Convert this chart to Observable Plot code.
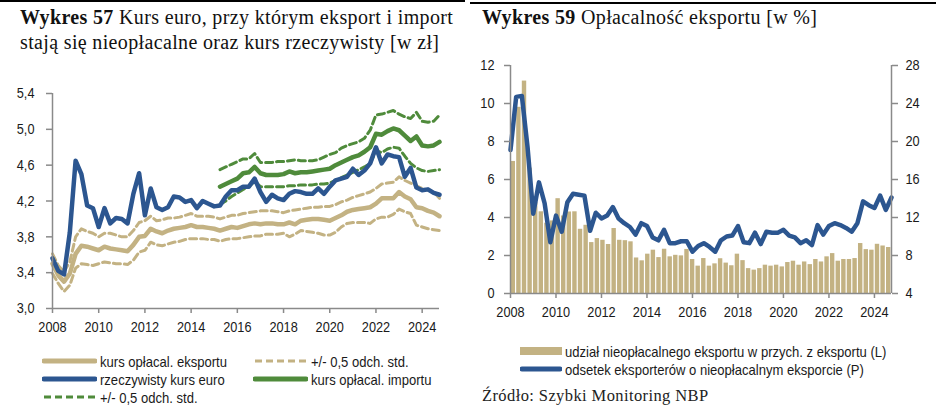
<!DOCTYPE html>
<html><head><meta charset="utf-8">
<script src="https://cdn.jsdelivr.net/npm/d3@7"></script>
<script src="https://cdn.jsdelivr.net/npm/@observablehq/plot@0.6"></script>
<style>
html,body{margin:0;padding:0;background:#fff;}
body{width:948px;height:416px;position:relative;overflow:hidden;font-family:"Liberation Sans Narrow","Arial Narrow","Liberation Sans",Arial,sans-serif;color:#1a1a1a;}
.abs{position:absolute;}
.title{font-family:"Liberation Serif","Times New Roman",serif;font-size:20px;letter-spacing:0.35px;line-height:25px;white-space:nowrap;color:#111;}
.title b{font-weight:bold;}
.leg{position:absolute;display:flex;align-items:center;height:18px;font-size:15px;white-space:nowrap;color:#1a1a1a;}
.leg svg{margin-right:3px;flex:none;}
.leg span{display:inline-block;transform:scaleX(0.87);transform-origin:0 50%;}
.src{font-family:"Liberation Serif","Times New Roman",serif;font-size:16.5px;letter-spacing:0.4px;white-space:nowrap;color:#222;}
#c1 svg,#c2 svg{max-width:none !important;display:block;}
</style></head><body>
<div class="abs" style="left:0;top:0;width:465px;height:1.5px;background:#000"></div>
<div class="abs" style="left:470px;top:2px;width:466px;height:1.5px;background:#000"></div>
<div class="abs title" style="left:20px;top:5px"><b>Wykres 57</b> Kurs euro, przy którym eksport i import<br>stają się nieopłacalne oraz kurs rzeczywisty [w zł]</div>
<div class="abs title" style="left:482px;top:5px"><b>Wykres 59</b> Opłacalność eksportu [w %]</div>
<div id="c1" class="abs" style="left:0;top:70px;width:470px;height:270px"></div>
<div id="c2" class="abs" style="left:474px;top:40px;width:474px;height:280px"></div>
<div id="legends"></div>
<div class="abs src" style="left:482px;top:386px">Źródło: Szybki Monitoring NBP</div>
<script>
// ---------- DATA ----------
// quarterly, 2008Q1 ... 2024Q4
const yearTicks = ["2008","2010","2012","2014","2016","2018","2020","2022","2024"];
const firstYear = 2008;

// Wykres 57 [zł]
const kursEksportu = [3.50,3.37,3.30,3.39, 3.61,3.70,3.69,3.67, 3.65,3.69,3.67,3.66, 3.65,3.64,3.71,3.80,
  3.81,3.89,3.86,3.84, 3.87,3.89,3.90,3.91, 3.93,3.91,3.91,3.90, 3.89,3.87,3.89,3.91,
  3.90,3.92,3.94,3.95, 3.94,3.95,3.95,3.94, 3.94,3.96,3.94,3.98, 3.99,4.00,4.00,3.99,
  3.98,4.01,4.04,4.08, 4.10,4.11,4.12,4.13, 4.17,4.23,4.23,4.23, 4.30,4.25,4.22,4.13,
  4.12,4.09,4.07,4.03];
const kursEksportuGora = [3.61,3.48,3.41,3.52, 3.80,3.89,3.86,3.84, 3.80,3.84,3.84,3.82, 3.80,3.80,3.87,3.96,
  3.98,4.03,3.98,3.99, 4.01,4.01,4.02,4.04, 4.06,4.03,4.03,4.03, 4.02,4.00,4.02,4.04,
  4.04,4.06,4.07,4.08, 4.09,4.09,4.09,4.08, 4.07,4.09,4.10,4.11, 4.12,4.13,4.13,4.14,
  4.14,4.16,4.19,4.21, 4.24,4.26,4.28,4.30, 4.34,4.39,4.40,4.41, 4.47,4.43,4.40,4.37,
  4.34,4.32,4.30,4.23];
const kursEksportuDol = [3.39,3.28,3.19,3.26, 3.45,3.50,3.49,3.48, 3.50,3.52,3.51,3.50, 3.50,3.49,3.54,3.63,
  3.65,3.74,3.71,3.70, 3.72,3.74,3.75,3.77, 3.78,3.78,3.78,3.77, 3.77,3.75,3.77,3.78,
  3.78,3.79,3.80,3.81, 3.81,3.83,3.83,3.83, 3.84,3.80,3.83,3.87, 3.86,3.85,3.84,3.82,
  3.82,3.85,3.91,3.95, 3.96,3.96,3.96,3.95, 4.00,4.02,4.02,4.05, 4.11,4.08,4.06,3.93,
  3.91,3.89,3.88,3.87];
const kursRzeczywisty = [3.56,3.42,3.38,3.85, 4.65,4.50,4.15,4.12, 3.91,4.12,3.95,4.01, 4.00,3.95,4.28,4.51,
  4.04,4.34,4.13,4.10, 4.13,4.25,4.24,4.19, 4.21,4.12,4.20,4.17, 4.14,4.15,4.25,4.32,
  4.32,4.36,4.36,4.45, 4.30,4.19,4.27,4.23, 4.21,4.28,4.31,4.30, 4.28,4.28,4.34,4.28,
  4.36,4.43,4.45,4.47, 4.56,4.49,4.54,4.62, 4.80,4.62,4.72,4.70, 4.69,4.47,4.57,4.35,
  4.32,4.33,4.29,4.27];
// import series start in 2015Q2
const importStart = 29;
const kursImportu = [4.36,4.39,4.42, 4.45,4.51,4.52,4.58, 4.51,4.49,4.49,4.49, 4.50,4.53,4.51,4.52,
  4.52,4.53,4.54,4.55, 4.56,4.60,4.63,4.66, 4.69,4.71,4.75,4.80, 4.95,4.94,4.98,5.01,
  4.99,4.93,4.87,4.92, 4.82,4.81,4.82,4.86];
const kursImportuGora = [4.55,4.58,4.61, 4.64,4.67,4.67,4.73, 4.63,4.63,4.63,4.64, 4.64,4.65,4.66,4.65,
  4.65,4.65,4.66,4.69, 4.72,4.74,4.79,4.82, 4.84,4.86,4.90,4.99, 5.16,5.17,5.19,5.21,
  5.17,5.14,5.12,5.19, 5.09,5.08,5.09,5.16];
const kursImportuDol = [4.16,4.20,4.25, 4.29,4.33,4.36,4.42, 4.36,4.36,4.36,4.36, 4.36,4.37,4.37,4.38,
  4.38,4.38,4.39,4.39, 4.40,4.43,4.46,4.49, 4.52,4.55,4.58,4.62, 4.76,4.74,4.78,4.80,
  4.79,4.70,4.62,4.57, 4.54,4.53,4.54,4.55];
const ticks57 = [3.0,3.4,3.8,4.2,4.6,5.0,5.4];

// Wykres 59 [%]
const udzialNieoplacalnego = [6.95,9.8,11.18,6.6, 4.8,4.3,3.7,3.82, 4.99,4.08,4.29,4.30, 3.38,3.59,2.68,2.89,
  2.80,2.58,3.42,2.80, 2.78,2.72,1.87,1.72, 2.07,2.28,1.89,2.33, 1.93,2.01,1.98,2.32,
  1.79,1.44,1.84,1.44, 1.56,1.83,1.60,1.46, 2.07,1.73,1.31,1.23, 1.31,1.49,1.44,1.49,
  1.40,1.63,1.70,1.49, 1.66,1.52,1.79,1.66, 1.93,2.10,1.70,1.79, 1.79,1.84,2.63,2.31,
  2.28,2.59,2.50,2.42];
const odsetekEksporterow = [19.1,24.7,24.8,19.4, 12.4,15.7,13.5,9.4, 12.2,10.5,13.6,14.5, 14.4,14.3,10.6,12.5,
  11.9,12.2,13.1,11.9, 11.4,11.0,10.2,11.4, 11.1,9.9,9.6,10.7, 9.3,9.3,9.5,9.5,
  8.4,9.0,9.3,8.9, 8.4,9.6,10.0,10.1, 11.1,9.4,9.3,10.4, 9.2,10.5,10.4,10.4,
  10.7,10.1,9.9,9.3, 9.6,9.1,11.2,10.2, 11.1,11.4,11.2,10.9, 10.5,11.4,13.7,13.3,
  13.0,14.3,12.8,14.1];
const ticks59L = [0,2,4,6,8,10,12];
const ticks59P = [4,8,12,16,20,24,28];

// ---------- COLORS ----------
const TAN = "#C3B283", BLUE = "#2C5690", GREEN = "#4F8B3B", AXIS = "#8a8a8a", TXT = "#1a1a1a";
const FONT = '"Liberation Sans Narrow","Arial Narrow","Liberation Sans",Arial,sans-serif';
const NARROW = 0.85;

const nQ = kursEksportu.length;
const toRows = (arr, off=0) => arr.map((v,i)=>({i:i+off, v}));
const tickIdx = yearTicks.map(y => (+y - firstYear)*4);
const yearLabel = i => yearTicks[tickIdx.indexOf(i)];

// condense tick label glyphs (narrow sans look), keeping their anchor points
function condense(svg) {
  d3.select(svg).selectAll('[aria-label$="tick label"] text').each(function() {
    const t = this.getAttribute("transform");
    if (t) {
      this.setAttribute("transform", `${t} scale(${NARROW},1)`);
    } else {
      const x = this.getAttribute("x");
      if (x !== null && !isNaN(+x)) this.setAttribute("x", +x / NARROW);
      this.setAttribute("transform", `scale(${NARROW},1)`);
    }
  });
  return svg;
}

// ---------- CHART 57 ----------
const dash = "7,4";
const c1 = Plot.plot({
  width: 470, height: 270,
  marginLeft: 52, marginRight: 31, marginTop: 23, marginBottom: 32,
  style: {fontFamily: FONT, fontSize: "15px", background: "transparent", overflow: "visible"},
  x: {domain: [0, nQ-1]},
  y: {domain: [3.0, 5.4]},
  marks: [
    Plot.line(toRows(kursEksportuGora), {x:"i", y:"v", stroke:TAN, strokeWidth:3, strokeDasharray:dash}),
    Plot.line(toRows(kursEksportuDol), {x:"i", y:"v", stroke:TAN, strokeWidth:3, strokeDasharray:dash}),
    Plot.line(toRows(kursEksportu), {x:"i", y:"v", stroke:TAN, strokeWidth:4.5}),
    Plot.line(toRows(kursImportuGora, importStart), {x:"i", y:"v", stroke:GREEN, strokeWidth:3, strokeDasharray:dash}),
    Plot.line(toRows(kursImportuDol, importStart), {x:"i", y:"v", stroke:GREEN, strokeWidth:3, strokeDasharray:dash}),
    Plot.line(toRows(kursImportu, importStart), {x:"i", y:"v", stroke:GREEN, strokeWidth:4.5}),
    Plot.line(toRows(kursRzeczywisty), {x:"i", y:"v", stroke:BLUE, strokeWidth:4.5}),
    Plot.ruleX([0], {stroke:AXIS, strokeWidth:1.5}),
    Plot.ruleY([3.0], {stroke:AXIS, strokeWidth:1.5}),
    Plot.axisY({ticks: ticks57, tickFormat: d => d.toFixed(1).replace(".", ","), tickSize:6, tickPadding:12,
      stroke:AXIS, strokeWidth:1.5, fill:TXT, fontSize:15, label:null}),
    Plot.axisX({ticks: tickIdx, tickFormat: yearLabel, tickSize:5, tickPadding:8,
      stroke:AXIS, strokeWidth:1.5, fill:TXT, fontSize:15, label:null})
  ]
});
document.getElementById("c1").append(condense(c1));

// ---------- CHART 59 ----------
const c2 = Plot.plot({
  width: 474, height: 280,
  marginLeft: 36, marginRight: 57, marginTop: 25, marginBottom: 27,
  style: {fontFamily: FONT, fontSize: "15px", background: "transparent", overflow: "visible"},
  x: {domain: [0, nQ-1]},
  y: {domain: [0, 12]},
  marks: [
    Plot.rectY(toRows(udzialNieoplacalnego), {
      x1: d => d.i*(nQ-1)/nQ, x2: d => (d.i+1)*(nQ-1)/nQ, y: "v",
      fill: TAN, insetLeft: 0.6, insetRight: 0.6}),
    Plot.line(toRows(odsetekEksporterow), {x:"i", y: d => (d.v - ticks59P[0]) / (ticks59P[1]-ticks59P[0]) * (ticks59L[1]-ticks59L[0]),
      stroke:BLUE, strokeWidth:4.5}),
    Plot.ruleX([0], {stroke:AXIS, strokeWidth:1.5}),
    Plot.ruleX([nQ-1], {stroke:AXIS, strokeWidth:1.5}),
    Plot.ruleY([0], {stroke:AXIS, strokeWidth:1.5}),
    Plot.axisY({ticks: ticks59L, tickFormat: d => String(d), tickSize:6, tickPadding:10,
      stroke:AXIS, strokeWidth:1.5, fill:TXT, fontSize:15, label:null}),
    Plot.axisY({anchor:"right", ticks: ticks59L, tickFormat: d => String(ticks59P[ticks59L.indexOf(d)]), tickSize:6, tickPadding:8,
      stroke:AXIS, strokeWidth:1.5, fill:TXT, fontSize:15, label:null}),
    Plot.axisX({ticks: tickIdx, tickFormat: yearLabel, tickSize:5, tickPadding:8,
      stroke:AXIS, strokeWidth:1.5, fill:TXT, fontSize:15, label:null})
  ]
});
document.getElementById("c2").append(condense(c2));

// ---------- LEGENDS ----------
const legendItems = [
  {x:42, y:361, w:55, type:"line", color:TAN, text:"kurs opłacal. eksportu"},
  {x:253, y:361, w:55, type:"dash", color:TAN, text:"+/- 0,5 odch. std."},
  {x:42, y:379, w:55, type:"line", color:BLUE, text:"rzeczywisty kurs euro"},
  {x:253, y:379, w:55, type:"line", color:GREEN, text:"kurs opłacal. importu"},
  {x:42, y:397, w:55, type:"dash", color:GREEN, text:"+/- 0,5 odch. std."},
  {x:520, y:351, w:42, type:"rect", color:TAN, text:"udział nieopłacalnego eksportu w przych. z eksportu (L)"},
  {x:520, y:369, w:42, type:"line", color:BLUE, text:"odsetek eksporterów o nieopłacalnym eksporcie (P)"}
];
const lg = d3.select("#legends");
for (const it of legendItems) {
  const row = lg.append("div").attr("class","leg").style("left", it.x+"px").style("top", (it.y-9)+"px");
  const s = row.append("svg").attr("width", it.w).attr("height", 12);
  if (it.type === "rect") s.append("rect").attr("x",0).attr("y",2).attr("width",it.w).attr("height",8).attr("fill",it.color);
  else s.append("line").attr("x1",2).attr("x2",it.w-2).attr("y1",6).attr("y2",6)
        .attr("stroke",it.color).attr("stroke-width", it.type==="dash"?3:5)
        .attr("stroke-linecap", it.type==="dash"?"butt":"round")
        .attr("stroke-dasharray", it.type==="dash"?"7,4":null);
  row.append("span").text(it.text);
}
</script>
</body></html>
